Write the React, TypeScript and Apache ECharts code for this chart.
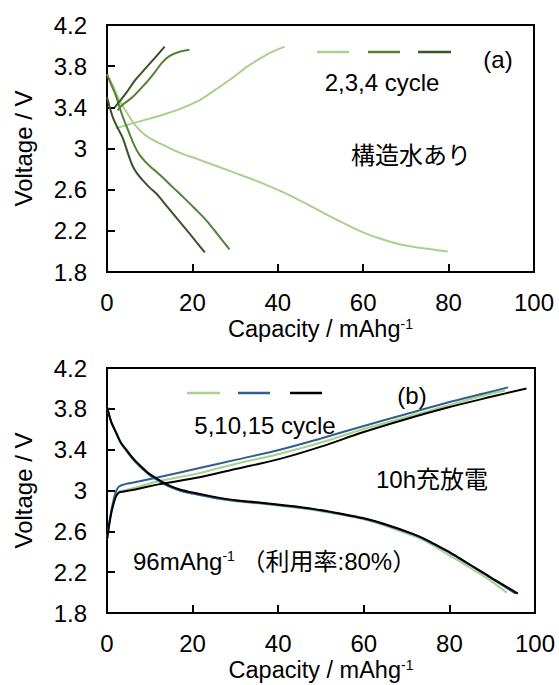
import React, { useEffect, useRef } from "react";
import * as echarts from "echarts";

// ---------- (a) 構造水あり : cycles 2,3,4 ----------
const a2Charge = [[2,3.2],[4,3.22],[6,3.245],[10,3.29],[14,3.34],[18,3.4],[21.7,3.47],[25,3.56],[29.5,3.69],[33,3.8],[37.3,3.91],[40.4,3.97],[41.6,3.99]];
const a2Discharge = [[0,3.72],[1.5,3.6],[3,3.46],[4.5,3.36],[6,3.26],[7.6,3.18],[10,3.1],[13.9,3.02],[17,2.96],[21.7,2.89],[29.5,2.77],[35,2.685],[40.4,2.59],[44,2.52],[48.2,2.43],[52,2.345],[56.1,2.26],[60,2.185],[63.9,2.125],[68,2.075],[71.7,2.045],[76,2.02],[79.8,2.0]];
const a3Charge = [[2.5,3.37],[3.5,3.42],[6,3.5],[9.2,3.64],[11,3.73],[13,3.84],[14.7,3.9],[17,3.94],[19.3,3.96]];
const a3Discharge = [[0,3.72],[1,3.62],[2.2,3.5],[3.5,3.33],[5.3,3.14],[6.5,3.02],[7.6,2.94],[9,2.87],[10.8,2.8],[13,2.72],[15.5,2.62],[17.8,2.53],[20.5,2.42],[23.3,2.3],[26,2.16],[28.7,2.02]];
const a4Charge = [[1.8,3.4],[3,3.46],[4.5,3.54],[6.5,3.66],[8.4,3.75],[11,3.87],[13.5,3.99]];
const a4Discharge = [[0,3.5],[1.3,3.31],[2.5,3.2],[3.7,3.1],[5,2.94],[6,2.83],[7,2.76],[8.4,2.69],[10,2.62],[11.6,2.56],[14,2.44],[17,2.29],[20,2.14],[22.9,1.99]];

// ---------- (b) 10h充放電 : cycles 5,10,15 ----------
const b5Charge = [[0,2.52],[0.5,2.66],[1,2.78],[1.6,2.88],[2.2,2.95],[2.8,2.99],[4,3.0],[7.6,3.04],[12,3.09],[21.6,3.17],[30,3.26],[40.4,3.36],[50,3.47],[59.8,3.6],[70,3.72],[79.4,3.83],[88,3.93],[93,3.98]];
const b10Charge = [[0,2.52],[0.5,2.67],[1,2.8],[1.6,2.92],[2.2,3.0],[2.8,3.04],[4,3.06],[7.6,3.09],[12,3.13],[21.6,3.22],[30,3.3],[40.4,3.4],[50,3.51],[59.8,3.63],[70,3.75],[79.4,3.86],[88,3.95],[93.7,4.01]];
const b15Charge = [[0,2.52],[0.5,2.66],[1,2.78],[1.6,2.88],[2.2,2.95],[2.8,2.98],[4,2.99],[7.6,3.02],[12,3.06],[21.6,3.13],[30,3.21],[40.4,3.31],[50,3.43],[59.8,3.57],[70,3.7],[79.4,3.81],[90,3.92],[98,4.0]];
const b5Discharge = [[0,3.82],[0.5,3.74],[1,3.67],[2.2,3.56],[3.2,3.47],[4.5,3.4],[6,3.31],[7.6,3.24],[10,3.15],[12.3,3.09],[15,3.03],[17,3.0],[20,2.97],[24.8,2.93],[30,2.895],[35,2.875],[40.4,2.85],[48.2,2.81],[55,2.76],[59.8,2.72],[65,2.655],[71.5,2.555],[75,2.49],[79.4,2.38],[83,2.29],[87.1,2.185],[90,2.105],[93.4,2.0]];
const b10Discharge = [[0,3.82],[0.5,3.74],[1,3.67],[2.2,3.56],[3.2,3.47],[4.5,3.39],[6,3.31],[7.6,3.24],[10,3.15],[12.3,3.09],[15,3.03],[17,3.0],[20,2.97],[24.8,2.93],[30,2.9],[35,2.88],[40.4,2.855],[48.2,2.815],[55,2.765],[59.8,2.725],[65,2.665],[71.5,2.57],[75,2.505],[79.4,2.405],[83,2.315],[87.1,2.21],[90,2.135],[93,2.055],[95.5,1.99]];
const b15Discharge = [[0,3.82],[0.5,3.74],[1,3.67],[2.2,3.56],[3.2,3.47],[4.5,3.4],[6,3.32],[7.6,3.25],[10,3.16],[12.3,3.1],[15,3.04],[17,3.01],[20,2.98],[24.8,2.94],[30,2.905],[35,2.885],[40.4,2.86],[48.2,2.82],[55,2.77],[59.8,2.73],[65,2.67],[71.5,2.575],[75,2.51],[79.4,2.41],[83,2.32],[87.1,2.215],[90,2.14],[93,2.065],[96,1.99]];

const xTicks = [0, 20, 40, 60, 80, 100];
const yTickLabels = ["1.8", "2.2", "2.6", "3", "3.4", "3.8", "4.2"];

const COLORS_A = ["#A9D18E", "#548235", "#375623"];
const COLORS_B = ["#A9D18E", "#2F5F8C", "#000000"];

const FONT = "'Liberation Sans', Arial, 'Noto Sans CJK JP', sans-serif";
const JP = "'Noto Sans CJK JP', sans-serif";
const TXT = "#000";

function xAxisDef(gridIndex: number) {
  return {
    type: "value",
    gridIndex,
    min: xTicks[0],
    max: xTicks[xTicks.length - 1],
    interval: 20,
    axisLine: { show: true, lineStyle: { color: "#000", width: 2 } },
    axisTick: { show: true, inside: true, length: 8, lineStyle: { color: "#000", width: 2 } },
    splitLine: { show: false },
    axisLabel: { fontSize: 24, fontFamily: FONT, color: TXT, margin: 18 },
    name: "Capacity / mAhg{sup|-1}",
    nameLocation: "middle",
    nameGap: 45,
    nameTextStyle: {
      fontSize: 23.5,
      fontFamily: FONT,
      color: TXT,
      rich: { sup: { fontSize: 14, lineHeight: 14, verticalAlign: "top", fontFamily: FONT, color: TXT } },
    },
  };
}

function yDisplayAxis(gridIndex: number) {
  return {
    type: "value",
    gridIndex,
    position: "left",
    min: 0,
    max: 2.4,
    interval: 0.4,
    axisLine: { show: true, lineStyle: { color: "#000", width: 2 } },
    axisTick: { show: true, inside: true, length: 8, lineStyle: { color: "#000", width: 2 } },
    splitLine: { show: false },
    axisLabel: {
      fontSize: 24,
      fontFamily: FONT,
      color: TXT,
      margin: 20,
      formatter: (v: number) => yTickLabels[Math.round(v / 0.4)] ?? "",
    },
    name: "Voltage / V",
    nameLocation: "middle",
    nameGap: 72,
    nameTextStyle: { fontSize: 24, fontFamily: FONT, color: TXT },
  };
}

function yDataAxis(gridIndex: number) {
  return { type: "value", gridIndex, min: 1.8, max: 4.2, show: false };
}

function line(data: number[][], color: string, xi: number, yi: number) {
  return {
    type: "line",
    xAxisIndex: xi,
    yAxisIndex: yi,
    data,
    symbol: "none",
    smooth: 0.35,
    lineStyle: { color, width: 2 },
    itemStyle: { color },
    silent: true,
  };
}

function legendLine(x1: number, x2: number, y: number, color: string) {
  return { type: "line", shape: { x1, y1: y, x2, y2: y }, style: { stroke: color, lineWidth: 2.5 } };
}

function txt(text: string, x: number, y: number, font: string, align = "center", rich?: any) {
  return {
    type: "text",
    x,
    y,
    style: {
      text,
      fontSize: 24,
      fontFamily: font,
      fill: TXT,
      align,
      verticalAlign: "middle",
      ...(rich ? { rich } : {}),
    },
  };
}

export default function App() {
  const ref = useRef<HTMLDivElement>(null);
  useEffect(() => {
    document.body.style.margin = "0";
    if (!ref.current) return;
    const chart = echarts.init(ref.current, undefined, { renderer: "svg" });
    chart.setOption({
      animation: false,
      backgroundColor: "#fff",
      grid: [
        { left: 107, top: 25, width: 427, height: 247, show: true, borderColor: "#000", borderWidth: 2, containLabel: false },
        { left: 107, top: 368, width: 428, height: 245, show: true, borderColor: "#000", borderWidth: 2, containLabel: false },
      ],
      xAxis: [xAxisDef(0), xAxisDef(1)],
      yAxis: [yDisplayAxis(0), yDataAxis(0), yDisplayAxis(1), yDataAxis(1)],
      series: [
        line(a2Charge, COLORS_A[0], 0, 1),
        line(a2Discharge, COLORS_A[0], 0, 1),
        line(a3Charge, COLORS_A[1], 0, 1),
        line(a3Discharge, COLORS_A[1], 0, 1),
        line(a4Charge, COLORS_A[2], 0, 1),
        line(a4Discharge, COLORS_A[2], 0, 1),
        line(b5Charge, COLORS_B[0], 1, 3),
        line(b5Discharge, COLORS_B[0], 1, 3),
        line(b10Charge, COLORS_B[1], 1, 3),
        line(b10Discharge, COLORS_B[1], 1, 3),
        line(b15Charge, COLORS_B[2], 1, 3),
        line(b15Discharge, COLORS_B[2], 1, 3),
      ],
      graphic: [
        legendLine(317, 349, 52, COLORS_A[0]),
        legendLine(368, 400, 52, COLORS_A[1]),
        legendLine(418, 451, 52, COLORS_A[2]),
        txt("2,3,4 cycle", 382, 82, FONT),
        txt("(a)", 498, 59, FONT),
        txt("構造水あり", 411, 153, JP),
        legendLine(187, 220, 393, COLORS_B[0]),
        legendLine(238, 270, 393, COLORS_B[1]),
        legendLine(290, 322, 393, COLORS_B[2]),
        txt("5,10,15 cycle", 265, 425, FONT),
        txt("(b)", 412, 395, FONT),
        txt("10h充放電", 432, 479, FONT),
        txt("96mAhg{sup|-1} （利用率:80%）", 133, 561, FONT, "left", {
          sup: { fontSize: 14, lineHeight: 14, verticalAlign: "top", fontFamily: FONT, fill: TXT },
        }),
      ],
    });
    return () => chart.dispose();
  }, []);
  return <div ref={ref} style={{ width: 559, height: 685 }} />;
}
